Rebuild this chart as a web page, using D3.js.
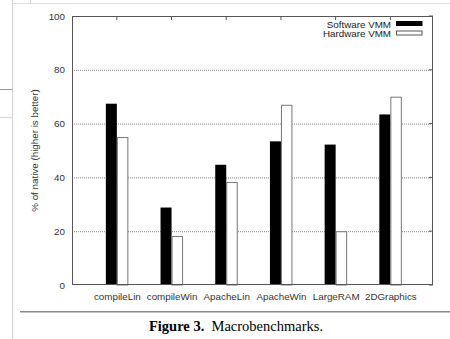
<!DOCTYPE html>
<html><head><meta charset="utf-8">
<script src="https://cdn.jsdelivr.net/npm/d3@7"></script>
<style>body{margin:0;background:#fff}svg{display:block}</style>
</head><body>
<svg id="c" width="450" height="339"></svg>
<script>
const categories = ["compileLin","compileWin","ApacheLin","ApacheWin","LargeRAM","2DGraphics"];
const softwareVMM = [67.4, 28.8, 44.7, 53.4, 52.2, 63.4];
const hardwareVMM = [55.0, 18.2, 38.3, 67.0, 20.0, 70.0];
const yTicks = [0, 20, 40, 60, 80, 100];
const seriesNames = ["Software VMM", "Hardware VMM"];

const svg = d3.select("#c");
const L = 72, R = 433, T = 16, B = 285;
const x = d3.scaleLinear().domain([-0.82, 5.78]).range([L, R]);
const y = d3.scaleLinear().domain([0, 100]).range([B, T]);
const barW = 11;
const font = "Liberation Sans, Arial, sans-serif";

// page decorations
svg.append("line").attr("x1",12.7).attr("x2",12.7).attr("y1",0).attr("y2",339).attr("stroke","#ccc").attr("stroke-width",1);
svg.append("line").attr("x1",13).attr("x2",450).attr("y1",3.5).attr("y2",3.5).attr("stroke","#ddd").attr("stroke-width",1);
svg.append("line").attr("x1",30.5).attr("x2",30.5).attr("y1",0).attr("y2",3.5).attr("stroke","#ccc");
svg.append("line").attr("x1",0).attr("x2",12.7).attr("y1",89.5).attr("y2",89.5).attr("stroke","#999");
svg.append("line").attr("x1",0).attr("x2",12.7).attr("y1",117.5).attr("y2",117.5).attr("stroke","#ddd").attr("stroke-width",1.5);
svg.append("line").attr("x1",20).attr("x2",450).attr("y1",311.7).attr("y2",311.7).attr("stroke","#888").attr("stroke-width",1.5);

// grid lines
svg.append("g").selectAll("line").data(yTicks.filter(d=>d>0 && d<100)).join("line")
  .attr("x1",L).attr("x2",R).attr("y1",d=>y(d)+0.5).attr("y2",d=>y(d)+0.5)
  .attr("stroke","#666").attr("stroke-width",0.8).attr("stroke-dasharray","1,1");

// y axis
const yAxis = d3.axisLeft(y).tickValues(yTicks).tickSize(0).tickPadding(7);
const gy = svg.append("g").attr("transform",`translate(${L},0)`).call(yAxis);
gy.select(".domain").remove();
gy.selectAll("text").attr("font-family",font).attr("font-size",9.8).attr("fill","#333");
// right side small ticks
svg.append("g").selectAll("line").data(yTicks).join("line")
  .attr("x1",R-4).attr("x2",R).attr("y1",d=>y(d)).attr("y2",d=>y(d)).attr("stroke","#555");

// x axis
const xAxis = d3.axisBottom(x).tickValues(d3.range(categories.length)).tickFormat(i=>categories[i]).tickSize(0).tickPadding(8);
const gx = svg.append("g").attr("transform",`translate(0,${B})`).call(xAxis);
gx.select(".domain").remove();
gx.selectAll("text").attr("font-family",font).attr("font-size",9.8).attr("fill","#333");
// top ticks
svg.append("g").selectAll("line").data(d3.range(categories.length)).join("line")
  .attr("x1",d=>x(d)).attr("x2",d=>x(d)).attr("y1",T).attr("y2",T+4).attr("stroke","#555");

// bars
svg.append("g").selectAll("rect").data(softwareVMM).join("rect")
  .attr("x",(d,i)=>x(i)-barW).attr("width",barW)
  .attr("y",d=>y(d)).attr("height",d=>B-y(d)).attr("fill","#000");
svg.append("g").selectAll("rect").data(hardwareVMM).join("rect")
  .attr("x",(d,i)=>x(i)+0.5).attr("width",barW-0.5)
  .attr("y",d=>y(d)+0.5).attr("height",d=>B-y(d)-0.5)
  .attr("fill","#fff").attr("stroke","#777").attr("stroke-width",1);

// frame
svg.append("rect").attr("x",L+0.5).attr("y",T+0.5).attr("width",R-L-1).attr("height",B-T-1)
  .attr("fill","none").attr("stroke","#555").attr("stroke-width",1);

// legend
const lg = svg.append("g");
seriesNames.forEach((n,i)=>{
  const yy = 24 + i*9.5;
  lg.append("text").attr("x",391).attr("y",yy+3.5).attr("text-anchor","end")
    .attr("font-family",font).attr("font-size",9.8).attr("fill","#222").text(n);
  lg.append("rect").attr("x",396.5).attr("y",yy-2.5).attr("width",25.5).attr("height",4)
    .attr("fill",i===0?"#000":"#fff").attr("stroke",i===0?"#000":"#555").attr("stroke-width",1);
});

// y label
svg.append("text").attr("transform",`translate(38,${(T+B)/2}) rotate(-90)`)
  .attr("text-anchor","middle").attr("font-family",font).attr("font-size",9.8).attr("fill","#333")
  .text("% of native (higher is better)");

// caption
const cap = svg.append("text").attr("x",236).attr("y",330.5).attr("text-anchor","middle")
  .attr("font-family","Liberation Serif, Times New Roman, serif").attr("font-size",14.5).attr("fill","#000");
cap.append("tspan").attr("font-weight","bold").text("Figure 3.");
cap.append("tspan").text("\u00a0\u00a0Macrobenchmarks.");
</script>
</body></html>
